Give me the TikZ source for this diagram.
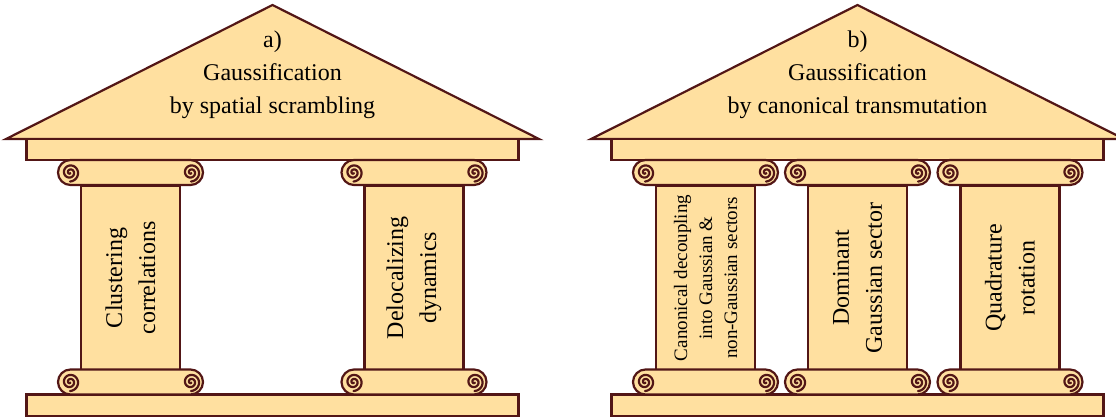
\documentclass[tikz,border=0pt]{standalone}
\usepackage{fontspec}
\setmainfont{Liberation Serif}
\definecolor{stone}{RGB}{255,224,160}
\definecolor{edge}{RGB}{82,22,22}
\tikzset{
  part/.style={draw=edge, fill=stone, line width=2.2pt, inner sep=0pt, outer sep=0pt},
  slab/.style={part, rectangle, minimum width=492pt, minimum height=21pt},
  shaft/.style={part, rectangle, minimum width=99pt, minimum height=184pt},
  capital/.style={part, rectangle, rounded corners=12.5pt, minimum width=145pt, minimum height=25pt},
  roof/.style={draw=edge, fill=stone, line width=2.2pt, line join=miter},
  biglabel/.style={font=\fontsize{24}{33}\selectfont, align=center, inner sep=0pt},
  smalllabel/.style={font=\fontsize{19}{25}\selectfont, align=center, inner sep=0pt},
  volute/.pic={\draw[edge, line width=2.2pt, line cap=round] plot[domain=60:810, samples=90, smooth] ({9*\x/810*cos(\x)}, {9*\x/810*sin(\x)});}
}
\newcommand\mypillar[2]{%
  \node[shaft] (#1s) at (#2,278) {};
  \node[capital] (#1t) at (#2,172.5) {};
  \node[capital] (#1b) at (#2,382) {};
  \pic at ($(#1t.center)+(-60.5,0)$) {volute};
  \pic at ($(#1t.center)+(60.5,0)$) {volute};
  \pic at ($(#1b.center)+(-60.5,0)$) {volute};
  \pic at ($(#1b.center)+(60.5,0)$) {volute};
}
\usetikzlibrary{calc}
\begin{document}
\begin{tikzpicture}[x=1pt,y=-1pt]
\useasboundingbox (0,0) rectangle (1116,417);
% left temple
\coordinate (la) at (272.5,5);
\coordinate (ll) at (6,139);
\coordinate (lr) at (539,139);
\draw[roof] (ll) -- (la) -- (lr) -- cycle;
\node[slab] (lent) at (272.5,149.5) {};
\node[slab, minimum height=21.5pt] (lbase) at (272.5,405.25) {};
\mypillar{la}{130.5}
\mypillar{lb}{414}
\node[biglabel] (ltitle) at (272.5,75) {a)\\Gaussification\\by spatial scrambling};
\node[biglabel, rotate=90] (lat) at (las) {Clustering\\correlations};
\node[biglabel, rotate=90] (lbt) at (lbs) {Delocalizing\\dynamics};
% right temple
\coordinate (ra) at (857.5,5);
\coordinate (rl) at (591,139);
\coordinate (rr) at (1124,139);
\draw[roof] (rl) -- (ra) -- (rr) -- cycle;
\node[slab] (rent) at (857.5,149.5) {};
\node[slab, minimum height=21.5pt] (rbase) at (857.5,405.25) {};
\mypillar{ra}{705.5}
\mypillar{rb}{857.5}
\mypillar{rc}{1010}
\node[biglabel] (rtitle) at (857.5,75) {b)\\Gaussification\\by canonical transmutation};
\node[smalllabel, rotate=90] (rat) at (ras) {Canonical decoupling\\into Gaussian \&\\non-Gaussian sectors};
\node[biglabel, rotate=90] (rbt) at (rbs) {Dominant\\Gaussian sector};
\node[biglabel, rotate=90] (rct) at (rcs) {Quadrature\\rotation};
\end{tikzpicture}
\end{document}
